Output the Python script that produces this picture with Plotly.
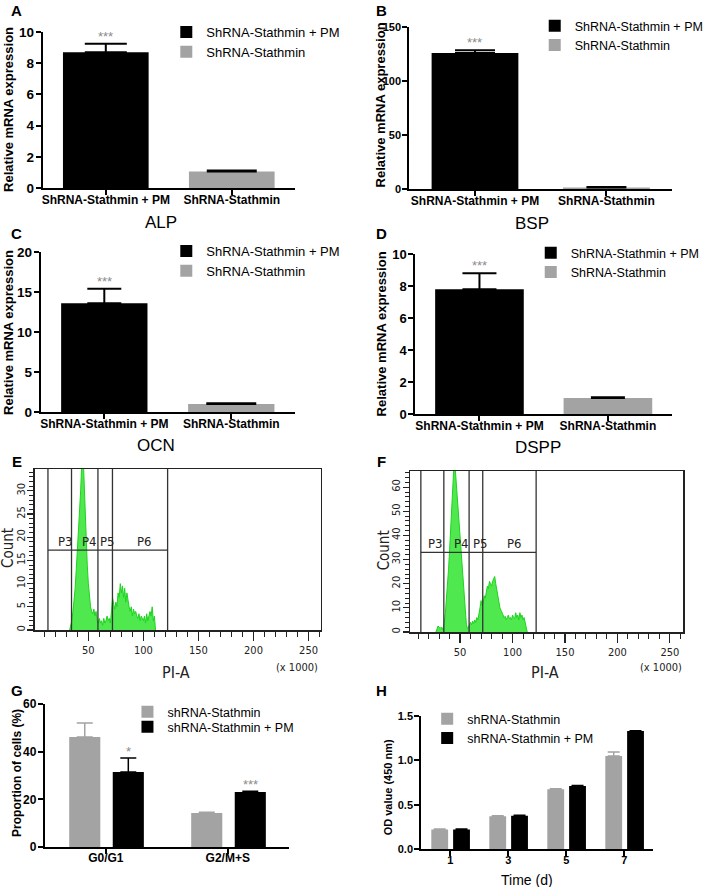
import plotly.graph_objects as go

# ---------------- data ----------------
CAT_AD = ["ShRNA-Stathmin + PM", "ShRNA-Stathmin"]
GENES = ["ALP", "BSP", "OCN", "DSPP"]
ALP_MEAN = [8.7, 1.05]
ALP_ERR = [0.55, 0.07]
BSP_MEAN = [126.0, 1.5]
BSP_ERR = [2.5, 0.3]
OCN_MEAN = [13.6, 1.0]
OCN_ERR = [1.8, 0.08]
DSPP_MEAN = [7.8, 1.0]
DSPP_ERR = [1.0, 0.05]
SIG_AD = ["***", ""]

PHASES = ["G0/G1", "G2/M+S"]
SERIES_GH = ["shRNA-Stathmin", "shRNA-Stathmin + PM"]
G_CTRL = [46.2, 14.3]
G_CTRL_ERR = [5.8, 0.3]
G_PM = [31.5, 23.1]
G_PM_ERR = [5.8, 0.3]
G_SIG = ["*", "***"]

DAYS = ["1", "3", "5", "7"]
OD_CTRL = [0.22, 0.37, 0.675, 1.05]
OD_CTRL_ERR = [0.005, 0.005, 0.005, 0.045]
OD_PM = [0.22, 0.375, 0.71, 1.33]
OD_PM_ERR = [0.005, 0.005, 0.005, 0.005]
OD_SIG = ["", "", "***", "***"]

# flow cytometry histograms (PI-A x1000, 1-unit bins)
E_START = 33
E_COUNT = [0, 1, 2, 4, 6, 9, 13, 17, 20, 24,
           30, 36, 40, 33, 26, 19, 14, 10, 7, 5,
           4, 3.5, 4.5, 3, 4, 2, 1.5, 2.5, 1.5, 2,
           1, 2.5, 1.5, 2, 3, 2, 2.5, 1.5, 4, 7,
           5.5, 4.5, 6, 5, 8, 7, 10, 8, 9.5, 7,
           9, 6, 8, 6, 5, 4, 5, 3, 4.5, 3.5,
           4, 3, 2.5, 3.5, 2, 3, 2.5, 2, 3, 1.5,
           3.5, 2, 3, 4, 3, 5, 2, 3, 0]
F_START = 27
F_COUNT = [0, 1.5, 2.5, 2, 1.5, 2, 1, 2, 4, 8,
           13, 18, 26, 34, 44, 54, 62, 68, 70, 64,
           57, 50, 42, 36, 30, 24, 18, 12, 7, 3,
           1.5, 2, 3, 4, 3, 4.5, 3.5, 5, 4, 6,
           5, 7, 10, 13, 11, 12, 15, 14, 17, 19,
           18, 21, 20, 19, 21, 22, 23, 20, 17, 15,
           12, 10, 9, 8, 7, 6, 6.5, 5, 6, 7,
           5.5, 6, 5, 7, 6, 5.5, 8, 6, 7, 5,
           8, 6, 7, 5, 6, 4, 3, 0]
GATE_NAMES = ["P3", "P4", "P5", "P6"]
E_GATES = [13.3, 34.7, 58.7, 71.9, 122.0]
E_GATE_LEVEL = 17.2
E_GATE_LABEL_X = [29, 51, 67, 101]
F_GATES = [12.6, 34.5, 58.6, 71.6, 122.5]
F_GATE_LEVEL = 33.0
F_GATE_LABEL_X = [27, 51, 69, 102]

# ---------------- styling ----------------
W, H = 709, 887
def fx(p): return p / W
def fy(p): return 1 - p / H

BLACK = "#000000"
GRAY = "#a3a3a3"
STAR = "#8c8c8c"
GREEN_FILL = "rgba(70,232,70,0.95)"
GREEN_LINE = "#1fd21f"
FONT = "Liberation Sans, Arial, sans-serif"
NARROW = "Liberation Sans Narrow, Arial Narrow, DejaVu Sans Condensed, sans-serif"

fig = go.Figure()
layout = dict(width=W, height=H, margin=dict(l=0, r=0, t=0, b=0, pad=0),
              template="none", paper_bgcolor="white", plot_bgcolor="white",
              barmode="overlay", showlegend=True,
              font=dict(family=FONT, color="black"))
annotations = []
shapes = []


def paper_text(cx, cy, text, size, family=FONT, bold=False, angle=0, color=BLACK):
    annotations.append(dict(x=fx(cx), y=fy(cy), xref="paper", yref="paper", text=text,
                            showarrow=False, xanchor="center", yanchor="middle",
                            textangle=angle,
                            font=dict(family=family, size=size, color=color,
                                      weight="bold" if bold else "normal")))


def ax_ids(n):
    s = "" if n == 1 else str(n)
    return "x" + s, "y" + s, "xaxis" + s, "yaxis" + s


def bar_axes(n, xdom, ydom, cats, yrange, dtick, tfs, yfs, fmt=None, standoff=-5):
    x, y, xk, yk = ax_ids(n)
    layout[xk] = dict(domain=[fx(xdom[0]), fx(xdom[1])], anchor=y, type="category",
                      categoryorder="array", categoryarray=cats,
                      range=[-0.5, len(cats) - 0.5], showline=True, linecolor=BLACK,
                      linewidth=2, ticks="outside", ticklen=5, tickwidth=2,
                      tickcolor=BLACK, showgrid=False, zeroline=False, automargin=False,
                      ticklabelstandoff=standoff,
                      tickfont=dict(family=FONT, size=tfs, color=BLACK, weight="bold"))
    layout[yk] = dict(domain=[fy(ydom[1]), fy(ydom[0])], anchor=x, range=yrange,
                      tick0=0, dtick=dtick, showline=True, linecolor=BLACK, linewidth=2,
                      ticks="outside", ticklen=5, tickwidth=2, tickcolor=BLACK,
                      showgrid=False, zeroline=False, automargin=False,
                      tickformat=fmt, ticklabelstandoff=-1,
                      tickfont=dict(family=FONT, size=yfs, color=BLACK, weight="bold"))


def legend_box(key, xpx, ypx, size):
    layout[key] = dict(x=fx(xpx), y=fy(ypx), xanchor="left", yanchor="top",
                       bgcolor="rgba(0,0,0,0)", borderwidth=0, tracegroupgap=0,
                       font=dict(family=FONT, size=size, color=BLACK),
                       traceorder="normal")


# ---- panels A-D ----
ad_panels = [
    (1, ALP_MEAN, ALP_ERR, (43, 296), (32, 188), [0, 10], 2, 0.68, [21, 25], "legend", (167, 17), 13, 13.5),
    (2, BSP_MEAN, BSP_ERR, (411, 675), (27, 189), [0, 150], 50, 0.66, [20, 20], "legend2", (537, 11), 12.5, 11),
    (3, OCN_MEAN, OCN_ERR, (41, 296), (252, 412), [0, 20], 5, 0.68, [17, 25], "legend3", (167, 236), 13, 13.5),
    (4, DSPP_MEAN, DSPP_ERR, (417, 675), (254, 414), [0, 10], 2, 0.69, [17, 17], "legend4", (533, 238), 12.5, 13),
]
for n, mean, err, xdom, ydom, yr, dt, bw, caps, leg, lpos, lfs, yfs in ad_panels:
    x, y, xk, yk = ax_ids(n)
    bar_axes(n, xdom, ydom, CAT_AD, yr, dt, 12, yfs)
    for i, col in enumerate([BLACK, GRAY]):
        fig.add_trace(go.Bar(x=[CAT_AD[i]], y=[mean[i]], name=CAT_AD[i], xaxis=x, yaxis=y,
                             width=[bw], marker=dict(color=col, line=dict(width=0)),
                             legend=leg,
                             error_y=dict(type="data", symmetric=False, array=[err[i]],
                                          arrayminus=[0], color=BLACK, thickness=2,
                                          width=caps[i])))
        if SIG_AD[i]:
            annotations.append(dict(x=CAT_AD[i], y=mean[i] + err[i], xref=x, yref=y,
                                    text=SIG_AD[i], showarrow=False, yanchor="bottom",
                                    xanchor="center", yshift=-2,
                                    font=dict(family=FONT, size=13, color=STAR)))
    legend_box(leg, lpos[0], lpos[1], lfs)

# gene names (x-axis captions) and y titles
for txt, (cx, cy) in zip(GENES, [(162, 222), (534, 223), (157, 445), (540, 447)]):
    paper_text(cx, cy, txt, 17)
for cx, cy in [(9, 109), (382, 105), (8, 332), (384, 334)]:
    paper_text(cx, cy, "Relative mRNA expression", 13, bold=True, angle=-90)

# ---- panels E, F (flow histograms) ----
flow = [
    (5, E_START, E_COUNT, (35, 322), (469, 630), [1.4, 261], [0, 34.7], 5, 1,
     E_GATES, E_GATE_LEVEL, E_GATE_LABEL_X, (8, 548), (177, 672), (298, 667)),
    (6, F_START, F_COUNT, (412, 686), (471, 632), [2.5, 262.6], [0, 66.7], 10, 2,
     F_GATES, F_GATE_LEVEL, F_GATE_LABEL_X, (386, 550), (547, 672), (664, 667)),
]
for (n, start, counts, xdom, ydom, xr, yr, ydt, ymin, gates, glev, glx,
     cpos, ppos, kpos) in flow:
    x, y, xk, yk = ax_ids(n)
    fig.add_trace(go.Scatter(x0=start, dx=1, y=counts, xaxis=x, yaxis=y, mode="lines",
                             line=dict(color=GREEN_LINE, width=1), fill="tozeroy",
                             fillcolor=GREEN_FILL, showlegend=False, hoverinfo="skip"))
    common = dict(showline=True, mirror=True, linecolor="#222222", linewidth=1.5,
                  ticks="outside", tickcolor="#222222", tickwidth=1.2, showgrid=False,
                  zeroline=False, automargin=False,
                  tickfont=dict(family=NARROW, size=11, color="#222222"))
    layout[xk] = dict(domain=[fx(xdom[0]), fx(xdom[1])], anchor=y, range=xr, tick0=0,
                      dtick=50, ticklen=9,
                      minor=dict(dtick=10, tick0=0, ticklen=5, tickwidth=1,
                                 ticks="outside", tickcolor="#222222", showgrid=False),
                      **common)
    layout[yk] = dict(domain=[fy(ydom[1]), fy(ydom[0])], anchor=x, range=yr, tick0=0,
                      dtick=ydt, ticklen=6, tickangle=-90, ticklabelstandoff=-2,
                      minor=dict(dtick=ymin, tick0=0, ticklen=4, tickwidth=1,
                                 ticks="outside", tickcolor="#222222", showgrid=False),
                      **common)
    for gx in gates:
        shapes.append(dict(type="line", xref=x, yref=y + " domain", x0=gx, x1=gx,
                           y0=0, y1=1, line=dict(color="#333333", width=1.3)))
    shapes.append(dict(type="line", xref=x, yref=y, x0=gates[0], x1=gates[-1],
                       y0=glev, y1=glev, line=dict(color="#333333", width=1.3)))
    for name, lx in zip(GATE_NAMES, glx):
        annotations.append(dict(x=lx, y=glev, xref=x, yref=y, text=name, showarrow=False,
                                yanchor="bottom", xanchor="center", yshift=-1,
                                font=dict(family=NARROW, size=13, color="#222222")))
    paper_text(cpos[0], cpos[1], "Count", 15, family=NARROW, angle=-90, color="#222222")
    paper_text(ppos[0], ppos[1], "PI-A", 16, family=NARROW, color="#222222")
    paper_text(kpos[0], kpos[1], "(x 1000)", 11, family=NARROW, color="#222222")

# ---- panel G ----
x, y, xk, yk = ax_ids(7)
bar_axes(7, (45, 290), (704, 847), PHASES, [0, 60], 20, 12, 12, standoff=-6)
GW = 0.255
for vals, errs, col, off, name, leg in [
        (G_CTRL, G_CTRL_ERR, GRAY, -0.30, SERIES_GH[0], "legend5"),
        (G_PM, G_PM_ERR, BLACK, 0.057, SERIES_GH[1], "legend7")]:
    fig.add_trace(go.Bar(x=PHASES, y=vals, name=name, xaxis=x, yaxis=y, width=GW,
                         offset=off, marker=dict(color=col, line=dict(width=0)),
                         legend=leg,
                         error_y=dict(type="data", symmetric=False, array=errs,
                                      arrayminus=[0] * len(errs), color=col,
                                      thickness=1.5, width=8)))
for i, s in enumerate(G_SIG):
    annotations.append(dict(x=PHASES[i], y=G_PM[i] + G_PM_ERR[i], xref=x, yref=y, text=s,
                            showarrow=False, yanchor="bottom", xanchor="center", yshift=-3,
                            xshift=(0.057 + GW / 2) * 122.5,
                            font=dict(family=FONT, size=13, color=STAR)))
legend_box("legend5", 128, 697, 12.5)
legend_box("legend7", 128, 712, 12.5)
paper_text(17, 773, "Proportion of cells (%)", 12, bold=True, angle=-90)

# ---- panel H ----
x, y, xk, yk = ax_ids(8)
bar_axes(8, (423, 656), (716, 849), DAYS, [0, 1.5], 0.5, 11, 11, fmt=".1f", standoff=-5)
HW = 0.29
for vals, errs, col, off, name in [(OD_CTRL, OD_CTRL_ERR, GRAY, -0.326, SERIES_GH[0]),
                                   (OD_PM, OD_PM_ERR, BLACK, 0.05, SERIES_GH[1])]:
    fig.add_trace(go.Bar(x=DAYS, y=vals, name=name, xaxis=x, yaxis=y, width=HW,
                         offset=off, marker=dict(color=col, line=dict(width=0)),
                         legend="legend6",
                         error_y=dict(type="data", symmetric=False, array=errs,
                                      arrayminus=[0] * len(errs), color=col,
                                      thickness=1.5, width=6)))
for i, s in enumerate(OD_SIG):
    if s:
        annotations.append(dict(x=DAYS[i], y=OD_PM[i] + OD_PM_ERR[i], xref=x, yref=y,
                                text=s, showarrow=False, yanchor="bottom",
                                xanchor="center", yshift=-3,
                                xshift=(0.05 + HW / 2) * 58.3,
                                font=dict(family=FONT, size=12, color=STAR)))
legend_box("legend6", 429, 704, 12.5)
paper_text(390, 787, "OD value (450 nm)", 11, bold=True, angle=-90)
paper_text(529, 880, "Time (d)", 14)

# ---- panel letters ----
for lt, (cx, cy) in zip("ABCDEFGH", [(17, 10), (383, 10), (17, 233), (383, 233),
                                     (17, 462), (383, 462), (17, 690), (383, 690)]):
    paper_text(cx, cy, lt, 15, bold=True)

layout["annotations"] = annotations
layout["shapes"] = shapes
fig.update_layout(**layout)
# remove the browser's default 8px page margin so the figure fills the window
fig.write_html("out.html", include_plotlyjs=True,
               config={"displayModeBar": False, "staticPlot": True},
               post_script="document.body.style.margin='0px';"
                           "document.body.style.overflow='hidden';")
